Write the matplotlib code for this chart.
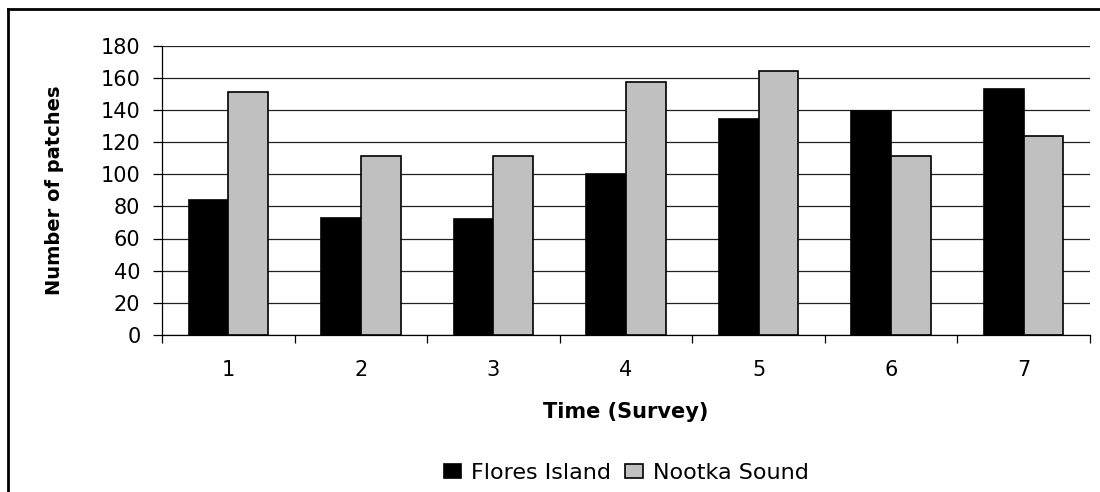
import numpy as np
import matplotlib.pyplot as plt
from matplotlib.lines import Line2D
from matplotlib.ticker import FixedLocator

plt.rcParams['font.family'] = ['DejaVu Sans']

# Patch counts per survey
surveys = ["1", "2", "3", "4", "5", "6", "7"]
flores_island = [84, 73, 72, 100, 134, 139, 153]
nootka_sound = [151, 111, 111, 157, 164, 111, 124]


def main():
    W, H = 1100, 492
    fig = plt.figure(figsize=(W / 100, H / 100), dpi=100)
    ax = fig.add_axes([162 / W, 1 - 335 / H, 928 / W, 289.5 / H])

    x = np.arange(len(surveys))
    w = 0.3

    ax.bar(x - w / 2, flores_island, w, color="black", edgecolor="black",
           linewidth=1.2, label="Flores Island", zorder=3)
    ax.bar(x + w / 2, nootka_sound, w, color="#c0c0c0", edgecolor="black",
           linewidth=1.2, label="Nootka Sound", zorder=3)

    ax.set_xlim(-0.5, len(surveys) - 0.5)
    ax.set_ylim(0, 180)
    ax.set_yticks(np.arange(0, 181, 20))
    ax.yaxis.grid(True, color="#222222", linewidth=0.9, zorder=0)

    # category labels at centres, tick marks between categories
    ax.set_xticks(x)
    ax.set_xticklabels(surveys)
    ax.xaxis.set_minor_locator(FixedLocator(np.arange(-0.5, len(surveys), 1.0)))
    ax.tick_params(axis="x", which="major", length=0, labelsize=15, pad=18)
    ax.tick_params(axis="x", which="minor", length=6, width=0.9, direction="out")
    ax.tick_params(axis="y", length=6.5, width=0.9, labelsize=15, pad=9)

    for side in ("top", "right"):
        ax.spines[side].set_visible(False)
    for side in ("left", "bottom"):
        ax.spines[side].set_linewidth(0.9)

    ax.set_xlabel("Time (Survey)", fontsize=15, fontweight="bold", labelpad=16)
    ax.set_ylabel("Number of patches", fontsize=14, fontweight="bold", labelpad=26)

    ax.legend(loc="center", bbox_to_anchor=(0.5, -0.475), ncol=2, frameon=False,
              fontsize=16, handlelength=0.8, handleheight=0.6,
              handletextpad=0.45, columnspacing=0.6)

    # chart frame: left and top edges
    lw = 2.0
    fig.lines.append(Line2D([8 / W, 8 / W], [0, 1 - 9 / H], transform=fig.transFigure,
                            color="black", linewidth=lw))
    fig.lines.append(Line2D([8 / W, 1], [1 - 9 / H, 1 - 9 / H], transform=fig.transFigure,
                            color="black", linewidth=lw))

    fig.savefig("out.png", dpi=100)


if __name__ == "__main__":
    main()
